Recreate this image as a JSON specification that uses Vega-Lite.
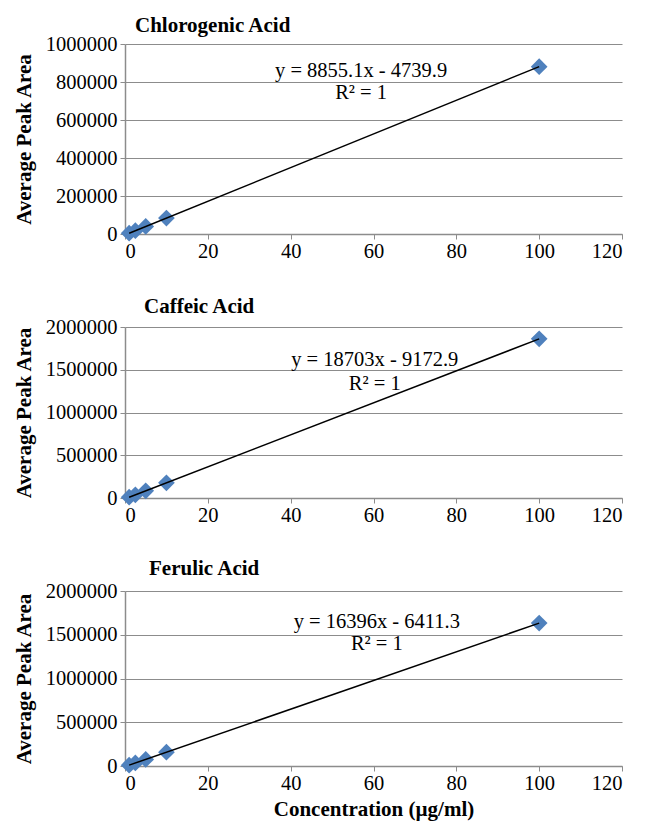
{
  "$schema": "https://vega.github.io/schema/vega-lite/v6.json",
  "background": "white",
  "padding": {"left": 13, "top": 15, "right": 5, "bottom": 5},
  "bounds": "flush",
  "spacing": 93,
  "config": {
    "font": "Liberation Serif",
    "view": {"stroke": null},
    "axis": {
      "labelFont": "Liberation Serif", "labelFontSize": 20.5, "labelColor": "black", "labelOverlap": false,
      "titleFont": "Liberation Serif", "titleFontSize": 21, "titleFontWeight": "bold", "titleColor": "black",
      "domainColor": "#8c8c8c", "tickColor": "#8c8c8c", "gridColor": "#8c8c8c", "tickSize": 5, "domainWidth": 1.5, "gridWidth": 1.2
    },
    "text": {"font": "Liberation Serif"},
    "title": {"font": "Liberation Serif", "fontSize": 21, "fontWeight": "bold", "color": "black", "anchor": "start", "frame": "group", "offset": -2}
  },
  "vconcat": [
    {
      "title": {"text": "Chlorogenic Acid", "dx": 10},
      "width": 497, "height": 190,
      "data": {"values": [
        {"conc": 1, "area": 4115},
        {"conc": 2.5, "area": 17398},
        {"conc": 5, "area": 39536},
        {"conc": 10, "area": 83811},
        {"conc": 100, "area": 880770}
      ]},
      "encoding": {
        "x": {"field": "conc", "type": "quantitative", "scale": {"domain": [0, 120]}, "axis": {"values": [0, 20, 40, 60, 80, 100, 120], "format": "d", "grid": false, "title": null, "labelPadding": 2}},
        "y": {"field": "area", "type": "quantitative", "scale": {"domain": [0, 1000000]}, "axis": {"values": [0, 200000, 400000, 600000, 800000, 1000000], "format": "d", "title": "Average Peak Area", "labelPadding": 3, "titlePadding": 11}}
      },
      "layer": [
        {
          "mark": {"type": "point", "shape": "diamond", "filled": true, "color": "#4F81BD", "size": 280, "opacity": 1}
        },
        {
          "transform": [{"regression": "area", "on": "conc"}],
          "mark": {"type": "line", "color": "black", "strokeWidth": 1.5}
        },
        {
          "data": {"values": [
            {"conc": 57, "area": 860000, "label": "y = 8855.1x - 4739.9"},
            {"conc": 57, "area": 742000, "label": "R² = 1"}
          ]},
          "mark": {"type": "text", "font": "Liberation Serif", "fontSize": 20.5, "align": "center", "baseline": "middle", "color": "black"},
          "encoding": {
            "text": {"field": "label"}
          }
        }
      ]
    },
    {
      "title": {"text": "Caffeic Acid", "dx": 19, "offset": 0},
      "width": 497, "height": 171,
      "data": {"values": [
        {"conc": 1, "area": 9530},
        {"conc": 2.5, "area": 37585},
        {"conc": 5, "area": 84342},
        {"conc": 10, "area": 177857},
        {"conc": 100, "area": 1861127}
      ]},
      "encoding": {
        "x": {"field": "conc", "type": "quantitative", "scale": {"domain": [0, 120]}, "axis": {"values": [0, 20, 40, 60, 80, 100, 120], "format": "d", "grid": false, "title": null, "labelPadding": 2}},
        "y": {"field": "area", "type": "quantitative", "scale": {"domain": [0, 2000000]}, "axis": {"values": [0, 500000, 1000000, 1500000, 2000000], "format": "d", "title": "Average Peak Area", "labelPadding": 3, "titlePadding": 11}}
      },
      "layer": [
        {
          "mark": {"type": "point", "shape": "diamond", "filled": true, "color": "#4F81BD", "size": 280, "opacity": 1}
        },
        {
          "transform": [{"regression": "area", "on": "conc"}],
          "mark": {"type": "line", "color": "black", "strokeWidth": 1.5}
        },
        {
          "data": {"values": [
            {"conc": 60.3, "area": 1612000, "label": "y = 18703x - 9172.9"},
            {"conc": 60.3, "area": 1330000, "label": "R² = 1"}
          ]},
          "mark": {"type": "text", "font": "Liberation Serif", "fontSize": 20.5, "align": "center", "baseline": "middle", "color": "black"},
          "encoding": {
            "text": {"field": "label"}
          }
        }
      ]
    },
    {
      "title": {"text": "Ferulic Acid", "dx": 24, "offset": 2},
      "width": 497, "height": 175,
      "data": {"values": [
        {"conc": 1, "area": 9985},
        {"conc": 2.5, "area": 34579},
        {"conc": 5, "area": 75569},
        {"conc": 10, "area": 157549},
        {"conc": 100, "area": 1633189}
      ]},
      "encoding": {
        "x": {"field": "conc", "type": "quantitative", "scale": {"domain": [0, 120]}, "axis": {"values": [0, 20, 40, 60, 80, 100, 120], "format": "d", "grid": false, "title": "Concentration (µg/ml)", "labelPadding": 2, "titlePadding": 5}},
        "y": {"field": "area", "type": "quantitative", "scale": {"domain": [0, 2000000]}, "axis": {"values": [0, 500000, 1000000, 1500000, 2000000], "format": "d", "title": "Average Peak Area", "labelPadding": 3, "titlePadding": 11}}
      },
      "layer": [
        {
          "mark": {"type": "point", "shape": "diamond", "filled": true, "color": "#4F81BD", "size": 280, "opacity": 1}
        },
        {
          "transform": [{"regression": "area", "on": "conc"}],
          "mark": {"type": "line", "color": "black", "strokeWidth": 1.5}
        },
        {
          "data": {"values": [
            {"conc": 60.8, "area": 1642000, "label": "y = 16396x - 6411.3"},
            {"conc": 60.8, "area": 1395000, "label": "R² = 1"}
          ]},
          "mark": {"type": "text", "font": "Liberation Serif", "fontSize": 20.5, "align": "center", "baseline": "middle", "color": "black"},
          "encoding": {
            "text": {"field": "label"}
          }
        }
      ]
    }
  ]
}
